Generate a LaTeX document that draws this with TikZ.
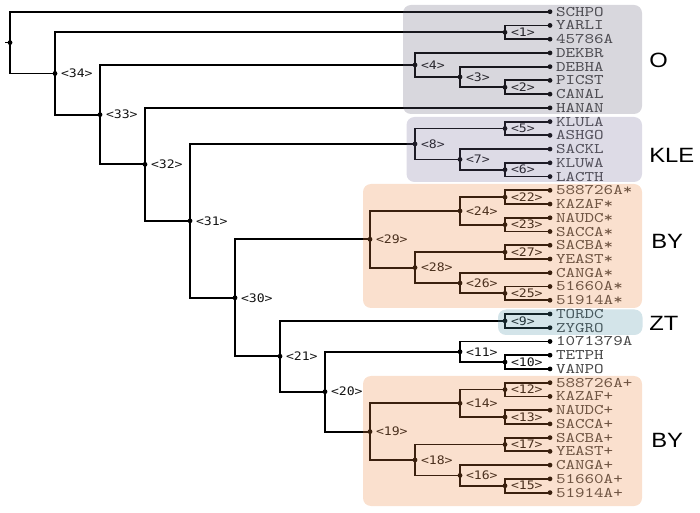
\documentclass[tikz,border=0pt]{standalone}
\usepackage{fontspec}
\newfontfamily\leaffont{lmmono10-regular.otf}[FakeStretch=1.24]
\newfontfamily\intfont{DejaVu Sans Mono}[FakeStretch=1.12]
\newfontfamily\grpfont{Liberation Sans}[FakeStretch=1.15]
\definecolor{leafgray}{RGB}{70,70,70}
\definecolor{intgray}{RGB}{20,20,20}
\definecolor{boxO}{RGB}{99,95,119}
\definecolor{boxK}{RGB}{119,111,155}
\definecolor{boxBY}{RGB}{235,131,59}
\definecolor{boxZT}{RGB}{79,147,167}
\tikzset{
  edge/.style={line width=1.35pt, black},
  dot/.style={circle, fill=black, inner sep=0pt, minimum size=3.6pt},
  leaflab/.style={font=\leaffont\fontsize{11pt}{11pt}\selectfont, text=leafgray, inner sep=0pt},
  intlab/.style={font=\intfont\fontsize{8.8pt}{8.8pt}\selectfont, text=intgray, inner sep=0pt},
  grplab/.style={font=\grpfont\fontsize{15.5pt}{15.5pt}\selectfont, text=black, inner sep=0pt, anchor=west},
  grpbox/.style={rounded corners=6pt, fill opacity=0.25},
}
\begin{document}
\begin{tikzpicture}[x=0.75pt, y=-0.75pt]
\useasboundingbox (0,0) rectangle (700,513);
% leaves
\foreach \i/\t in {0/SCHPO,1/YARLI,2/45786A,3/DEKBR,4/DEBHA,5/PICST,6/CANAL,7/HANAN,
  8/KLULA,9/ASHGO,10/SACKL,11/KLUWA,12/LACTH,13/588726A*,14/KAZAF*,15/NAUDC*,16/SACCA*,
  17/SACBA*,18/YEAST*,19/CANGA*,20/51660A*,21/51914A*,22/TORDC,23/ZYGRO,24/1071379A,
  25/TETPH,26/VANPO,27/588726A+,28/KAZAF+,29/NAUDC+,30/SACCA+,31/SACBA+,32/YEAST+,
  33/CANGA+,34/51660A+,35/51914A+}
  \node[dot, label={[leaflab, label distance=2.3pt]right:\t}] (L\i) at (550,{11.7+13.74*\i}) {};
% internal nodes
\foreach \k/\x/\i in {1/505/1.5, 2/505/5.5, 3/460/4.75, 4/415/3.875, 5/505/8.5, 6/505/11.5,
  7/460/10.75, 8/415/9.625, 9/505/22.5, 10/505/25.5, 11/460/24.75, 12/505/27.5, 13/505/29.5,
  14/460/28.5, 15/505/34.5, 16/460/33.75, 17/505/31.5, 18/415/32.625, 19/370/30.5625,
  20/325/27.65625, 21/280/25.078125, 22/505/13.5, 23/505/15.5, 24/460/14.5, 25/505/20.5,
  26/460/19.75, 27/505/17.5, 28/415/18.625, 29/370/16.5625, 30/235/20.8203125,
  31/190/15.22265625, 32/145/11.111328125, 33/100/7.4931640625, 34/55/4.49658203125}
  \node[dot, label={[intlab, label distance=2.3pt]right:<\k>}] (n\k) at (\x,{11.7+13.74*\i}) {};
\node[dot] (root) at (10,{11.7+13.74*2.248291015625}) {};
\coordinate (stub) at (5,{11.7+13.74*2.248291015625});
% edges
\draw[edge] (stub) -- (root.center);
\foreach \p/\c in {root/L0, root/n34, n34/n1, n34/n33, n33/n4, n33/n32, n32/L7, n32/n31,
  n31/n8, n31/n30, n30/n29, n30/n21, n21/n9, n21/n20, n20/n11, n20/n19, n19/n14, n19/n18,
  n18/n17, n18/n16, n16/L33, n16/n15, n15/L34, n15/L35, n17/L31, n17/L32, n14/n12, n14/n13,
  n12/L27, n12/L28, n13/L29, n13/L30, n11/L24, n11/n10, n10/L25, n10/L26, n9/L22, n9/L23,
  n29/n24, n29/n28, n28/n27, n28/n26, n26/L19, n26/n25, n25/L20, n25/L21, n27/L17, n27/L18,
  n24/n22, n24/n23, n22/L13, n22/L14, n23/L15, n23/L16, n8/n5, n8/n7, n7/L10, n7/n6,
  n6/L11, n6/L12, n5/L8, n5/L9, n4/L3, n4/n3, n3/L4, n3/n2, n2/L5, n2/L6, n1/L1, n1/L2}
  \draw[edge] (\p.center) |- (\c.center);
% group boxes (drawn on top, translucent)
\fill[grpbox, boxO] (403,5) rectangle (642,114);
\fill[grpbox, boxK] (406.5,117) rectangle (642,182);
\fill[grpbox, boxBY] (363,184) rectangle (642,308);
\fill[grpbox, boxZT] (498,309.5) rectangle (642.5,335);
\fill[grpbox, boxBY] (363,376) rectangle (642,506);
% group labels
\node[grplab] (gO) at (649,60) {O};
\node[grplab] (gK) at (649,155) {KLE};
\node[grplab] (gB1) at (651,241) {BY};
\node[grplab] (gZ) at (649,323) {ZT};
\node[grplab] (gB2) at (651,440) {BY};
\end{tikzpicture}
\end{document}
